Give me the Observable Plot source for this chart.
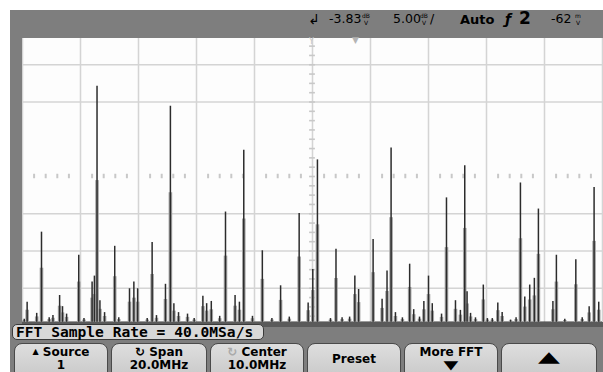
<!DOCTYPE html>
<html>
<head>
<meta charset="utf-8">
<script src="https://cdn.jsdelivr.net/npm/d3@7"></script>
<script src="https://cdn.jsdelivr.net/npm/@observablehq/plot@0.6"></script>
<style>
  html, body { margin: 0; padding: 0; background: #fff; }
  #scope { position: relative; width: 603px; height: 372px; overflow: hidden; background: #fff; font-family: "DejaVu Sans", sans-serif; }
  .grey { position: absolute; background: #7e7e7e; }
  #plotwrap { position: absolute; left: 22px; top: 27px; }
  .t { position: absolute; white-space: nowrap; color: #000; line-height: 1; }
  .unit { position: absolute; font-size: 6px; line-height: 7px; text-align: center; color: #000; }
  .btn { position: absolute; top: 343px; height: 40px; background: linear-gradient(#dedede, #c6c6c6); border: 1px solid #4a4a4a; border-radius: 8px; box-sizing: border-box; font-weight: bold; font-size: 12px; text-align: center; }
  .btn .l1 { position: absolute; left: 0; right: 0; top: 2px; line-height: 12px; }
  .btn .l2 { position: absolute; left: 0; right: 0; top: 16px; line-height: 11px; }
  #label { position: absolute; left: 12px; top: 324px; width: 252px; height: 16px; background: #d8d8d8; border: 1px solid #3a3a3a; border-radius: 5px; box-sizing: border-box; font-family: "DejaVu Sans Mono", monospace; font-weight: bold; font-size: 14.6px; line-height: 14px; padding-left: 3px; }
</style>
</head>
<body>
<div id="scope">
  <div id="plotwrap"></div>
  <div class="grey" style="left:10px;top:10px;width:593px;height:28px;"></div>
  <div class="grey" style="left:10px;top:10px;width:12px;height:320px;"></div>
  <div class="grey" style="left:10px;top:323px;width:593px;height:49px;"></div>
  <div class="grey" style="left:22px;top:322px;width:581px;height:5px;background:#5a5a5a;"></div>

  <div class="t" style="left:308px;top:12px;font-size:14px;">↲</div>
  <div class="t" style="left:329px;top:13px;font-size:12.5px;">-3.83</div>
  <div class="unit" style="left:362px;top:12px;">dB<br>V</div>
  <div class="t" style="left:393px;top:13px;font-size:12.5px;">5.00</div>
  <div class="unit" style="left:420px;top:12px;">dB<br>V</div>
  <div class="t" style="left:430px;top:13px;font-size:12.5px;">/</div>
  <div class="t" style="left:460px;top:13px;font-size:13px;font-weight:bold;">Auto</div>
  <div class="t" style="left:505px;top:12px;font-size:14px;font-weight:bold;font-style:italic;">ƒ</div>
  <div class="t" style="left:519px;top:10px;font-size:17px;font-weight:bold;">2</div>
  <div class="t" style="left:551px;top:13px;font-size:12.5px;">-62</div>
  <div class="unit" style="left:575px;top:12px;">m<br>V</div>
  <div class="t" style="left:352px;top:36px;font-size:9px;color:#b4b4b4;">▼</div>
  <div class="t" style="left:309px;top:38px;font-size:8px;color:#c4c4c4;">Y</div>

  <div id="label">FFT Sample Rate = 40.0MSa/s</div>

  <div class="btn" style="left:14px;width:94px;"><div class="l1"><span style="font-size:8px;vertical-align:2px;">▲</span> Source</div><div class="l2">1</div></div>
  <div class="btn" style="left:111px;width:96px;"><div class="l1"><span style="font-size:12px;">↻</span> Span</div><div class="l2">20.0MHz</div></div>
  <div class="btn" style="left:210px;width:94px;"><div class="l1"><span style="font-size:12px;color:#aaa;">↻</span> Center</div><div class="l2">10.0MHz</div></div>
  <div class="btn" style="left:307px;width:94px;"><div class="l1" style="top:9px;">Preset</div></div>
  <div class="btn" style="left:404px;width:94px;"><div class="l1" style="top:2px;">More FFT</div><div class="l2" style="top:16px;font-size:12px;transform:scaleX(1.6);">▼</div></div>
  <div class="btn" style="left:501px;width:96px;"><div class="l1" style="top:7px;font-size:15px;transform:scaleX(1.9);">▲</div></div>
</div>
<script>
// Spectrum peaks (frequency in MHz, level in dBV)
const FREQ_MHZ = [0.06, 0.16, 0.49, 0.655, 0.92, 1.05, 1.28, 1.38, 1.52, 1.94, 2.12, 2.40, 2.48, 2.57, 2.67, 2.83, 3.18, 3.32, 3.69, 3.84, 3.97, 4.30, 4.47, 4.62, 4.93, 5.10, 5.22, 5.38, 5.69, 5.92, 6.22, 6.35, 6.51, 6.80, 7.00, 7.33, 7.48, 7.63, 7.93, 8.27, 8.60, 8.90, 9.20, 9.54, 9.85, 10.01, 10.17, 10.62, 10.81, 11.02, 11.28, 11.46, 11.59, 12.09, 12.40, 12.57, 12.71, 12.86, 13.10, 13.35, 13.49, 13.69, 13.84, 14.00, 14.13, 14.45, 14.62, 14.93, 15.10, 15.25, 15.33, 15.45, 15.62, 15.89, 16.03, 16.20, 16.39, 16.54, 16.83, 17.02, 17.17, 17.32, 17.49, 17.65, 17.79, 18.29, 18.41, 18.70, 19.08, 19.30, 19.54, 19.71, 19.87];
const LEVEL_DBV = [-23.0, -20.7, -22.2, -11.3, -22.8, -22.5, -19.8, -21.3, -22.3, -14.4, -22.9, -18.0, -17.2, 8.3, -20.5, -22.1, -13.2, -22.8, -18.9, -18.0, -18.9, -22.9, -12.7, -22.5, -18.3, 5.6, -20.9, -22.1, -22.3, -22.9, -19.9, -20.9, -20.6, -22.6, -8.6, -19.8, -20.7, -0.3, -22.6, -13.8, -22.9, -18.5, -22.7, -8.8, -20.8, -16.3, -1.6, -22.9, -13.6, -22.8, -22.7, -17.2, -19.0, -12.3, -20.3, -16.5, 0.0, -22.1, -22.8, -15.6, -21.7, -22.7, -20.6, -17.2, -20.9, -22.3, -6.7, -20.5, -21.8, -2.4, -19.3, -22.2, -22.8, -18.4, -22.9, -22.9, -20.8, -22.1, -23.1, -22.8, -4.7, -20.0, -18.4, -17.5, -8.2, -20.6, -14.4, -23.0, -15.0, -22.8, -21.3, -5.3, -20.7];

// Screen scales: 2 MHz/div, 5 dB/div, offset -3.83 dBV at center
const X_GRID = [0, 2, 4, 6, 8, 10, 12, 14, 16, 18, 20];
const Y_GRID = [-23.83, -18.83, -13.83, -8.83, 6.17, 11.17, 16.17];
const CENTER_MHZ = 10;
const CENTER_DBV = -3.83;
const NOISE_FLOOR = -23.4;

const peaks = FREQ_MHZ.map((f, i) => ({f, level: LEVEL_DBV[i]}));
const hTicks = d3.range(0, 20.001, 0.4).filter(v => Math.abs(v / 2 - Math.round(v / 2)) > 0.01);
const vTicks = d3.range(-23.83, 16.2, 1.25);

const chart = Plot.plot({
  width: 580,
  height: 298,
  margin: 0,
  x: {domain: [0, 20], axis: null},
  y: {domain: [-23.83, 16.17], axis: null},
  style: {background: "#fdfdfd", overflow: "visible"},
  marks: [
    Plot.ruleX(X_GRID, {stroke: "#d4d4d4", strokeWidth: 1.5}),
    Plot.ruleY(Y_GRID, {stroke: "#d4d4d4", strokeWidth: 1.5}),
    Plot.ruleX(hTicks, {x: d => d, y1: () => CENTER_DBV - 0.3, y2: () => CENTER_DBV + 0.3, stroke: "#c8c8c8", strokeWidth: 2}),
    Plot.ruleY(vTicks, {y: d => d, x1: () => CENTER_MHZ - 0.1, x2: () => CENTER_MHZ + 0.1, stroke: "#c8c8c8", strokeWidth: 1.6}),
    Plot.ruleY([NOISE_FLOOR], {stroke: "#3a3a3a", strokeWidth: 1.5}),
    Plot.ruleX(peaks, {x: "f", y1: () => NOISE_FLOOR, y2: d => NOISE_FLOOR + (d.level - NOISE_FLOOR) * 0.6, stroke: "#a4a4a4", strokeWidth: 3.6}),
    Plot.ruleX(peaks, {x: "f", y1: () => NOISE_FLOOR, y2: "level", stroke: "#2c2c2c", strokeWidth: 1.5})
  ]
});
document.getElementById("plotwrap").appendChild(chart);
</script>
</body>
</html>
